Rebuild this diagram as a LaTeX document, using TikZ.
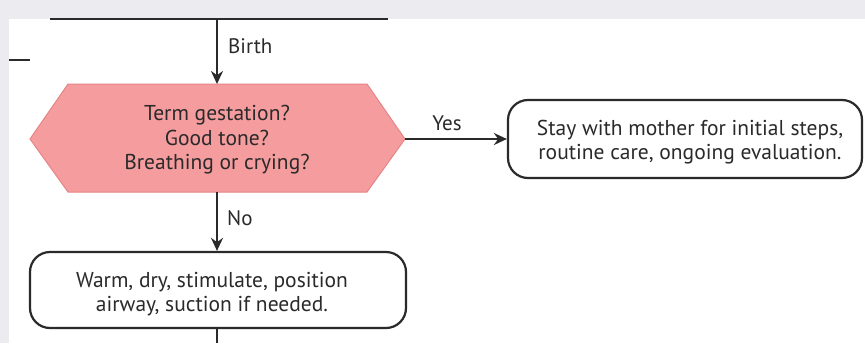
\documentclass[tikz,border=0pt]{standalone}
\usepackage{fontspec}
\setmainfont{PT Sans}
\usetikzlibrary{arrows.meta,shapes.misc}
\definecolor{bggray}{HTML}{ECECF0}
\definecolor{linec}{HTML}{2A2A2A}
\definecolor{pinkfill}{HTML}{F59C9E}
\definecolor{pinkline}{HTML}{E58587}
\tikzset{
  conn/.style={draw=linec, line width=2.2pt, -{Stealth[length=13pt,width=12pt]}},
  plainline/.style={draw=linec, line width=2.2pt},
  roundbox/.style={draw=linec, line width=2.2pt, rounded corners=20pt, fill=white},
  lbl/.style={font=\fontsize{21}{24}\selectfont, text=linec, inner sep=0pt},
  boxtext/.style={font=\fontsize{21.5}{24.5}\selectfont, text=linec, align=center, inner sep=0pt}
}
\begin{document}
\begin{tikzpicture}[x=1pt,y=-1pt]
\useasboundingbox (0,0) rectangle (865,343);
\fill[bggray] (0,0) rectangle (865,343);
\fill[white] (9,19) rectangle (865,343);
% cut-off top box
\coordinate (tl) at (50,19);
\coordinate (tr) at (388,19);
\draw[plainline] (tl) -- (tr);
\coordinate (topc) at (217,19);
% left dash
\coordinate (d1) at (9,60);
\coordinate (d2) at (30,60);
\draw[plainline] (d1) -- (d2);
% hexagon
\filldraw[fill=pinkfill, draw=pinkline, line width=1pt]
  (68,84) coordinate (h1) -- (367,84) -- (405,139) coordinate (hr) -- (367,192) -- (68,192) -- (30,139) -- cycle;
\coordinate (htop) at (217,84);
\coordinate (hbot) at (217,192);
\node[boxtext] (q) at (217,140) {Term gestation?\\Good tone?\\Breathing or crying?};
% right box
\node[roundbox, minimum width=354pt, minimum height=78pt] (stay) at (685,139) {};
\node[boxtext] (stayt) at (690,142) {Stay with mother for initial steps,\\routine care, ongoing evaluation.};
% bottom box
\node[roundbox, minimum width=376pt, minimum height=76pt] (warm) at (218,290) {};
\node[boxtext] (warmt) at (212,294) {Warm, dry, stimulate, position\\airway, suction if needed.};
\coordinate (bot) at (217,343);
% connectors
\draw[conn] (topc) -- (htop);
\node[lbl, anchor=west] (birth) at (228,46) {Birth};
\draw[conn] (hr) -- (stay.west);
\node[lbl] (yes) at (447,123) {Yes};
\draw[conn] (hbot) -- (warm.north -| hbot);
\node[lbl, anchor=west] (no) at (227,218) {No};
\draw[plainline] (warm.south -| bot) -- (bot);
\end{tikzpicture}
\end{document}
